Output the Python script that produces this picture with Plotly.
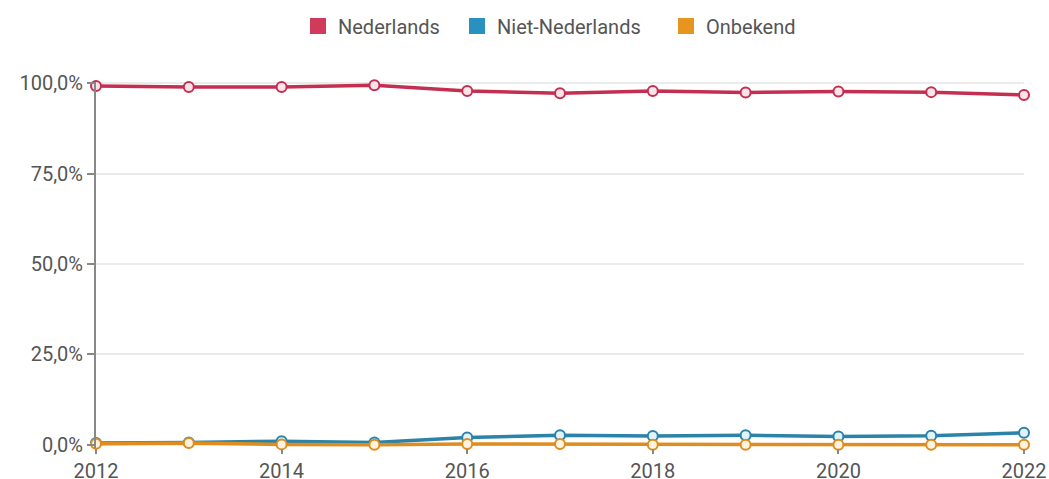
import plotly.graph_objects as go

# DATA
JAREN = list(range(2012, 2023))
NEDERLANDS = [99.2, 98.9, 98.9, 99.4, 97.8, 97.2, 97.8, 97.4, 97.7, 97.5, 96.7]
NIET_NEDERLANDS = [0.5, 0.6, 1.0, 0.6, 2.0, 2.6, 2.4, 2.6, 2.3, 2.5, 3.3]
ONBEKEND = [0.3, 0.5, 0.1, 0.0, 0.2, 0.2, 0.0, 0.0, 0.0, 0.0, 0.0]
Y_TICKS = [0, 25, 50, 75, 100]
Y_LABELS = ["0,0%", "25,0%", "50,0%", "75,0%", "100,0%"]

SERIES = [
    ("Nederlands", NEDERLANDS, "#d23a5c", "#c42e50", "#fbe3ea"),
    ("Niet-Nederlands", NIET_NEDERLANDS, "#2a90c0", "#2b83a8", "#e0f3fb"),
    ("Onbekend", ONBEKEND, "#e8951f", "#de8d1e", "#fdf3df"),
]

W, H = 1049, 479
LEGEND_X = [298, 457, 666]  # linkerkant per legenda-item, in px

fig = go.Figure()

# echte lijnen (zonder legenda)
for naam, waarden, kleur, lijn, vulling in SERIES:
    fig.add_trace(go.Scatter(
        x=JAREN, y=waarden, name=naam, mode="lines+markers",
        line=dict(color=lijn, width=3.5),
        marker=dict(size=10, color=vulling, line=dict(color=lijn, width=2)),
        showlegend=False, cliponaxis=False,
    ))

# legenda met vierkantjes, elk item een eigen legenda zodat de afstand klopt
legendas = {}
for i, (naam, waarden, kleur, lijn, vulling) in enumerate(SERIES):
    lg = "legend" if i == 0 else f"legend{i + 1}"
    fig.add_trace(go.Scatter(
        x=[None], y=[None], name=naam, mode="markers",
        marker=dict(symbol="square", size=20, color=kleur),
        legend=lg,
    ))
    legendas[lg] = dict(
        xref="container", x=LEGEND_X[i] / W, xanchor="left",
        yref="container", y=1 - 26 / H, yanchor="middle",
        font=dict(size=20, color="#555555"), itemwidth=30,
        bgcolor="rgba(0,0,0,0)",
    )

fig.update_layout(
    width=W, height=H,
    margin=dict(l=96, r=25, t=82, b=31, autoexpand=False),
    paper_bgcolor="white", plot_bgcolor="white",
    font=dict(family="Roboto, sans-serif", size=20, color="#555555"),
    showlegend=True,
    **legendas,
)

fig.update_xaxes(
    range=[2012, 2022], tickmode="array", tickvals=JAREN[::2],
    showgrid=False, showline=False, zeroline=False, automargin=False,
    ticks="outside", ticklen=5, tickwidth=2, tickcolor="#888888",
)
fig.update_yaxes(
    range=[-0.9, 100.3], tickmode="array", tickvals=Y_TICKS, ticktext=Y_LABELS,
    showgrid=True, gridcolor="#ebebeb", gridwidth=1.5,
    showline=True, linecolor="#888888", linewidth=2, automargin=False,
    zeroline=False, ticks="outside", ticklen=7, tickwidth=2, tickcolor="#888888",
)

# body-marge en scrollbalken weg zodat de figuur precies in het venster past
fig.write_html(
    "out.html",
    config={"displayModeBar": False},
    post_script="document.body.style.margin='0';"
                "document.body.style.overflow='hidden';"
                "document.documentElement.style.overflow='hidden';",
)
